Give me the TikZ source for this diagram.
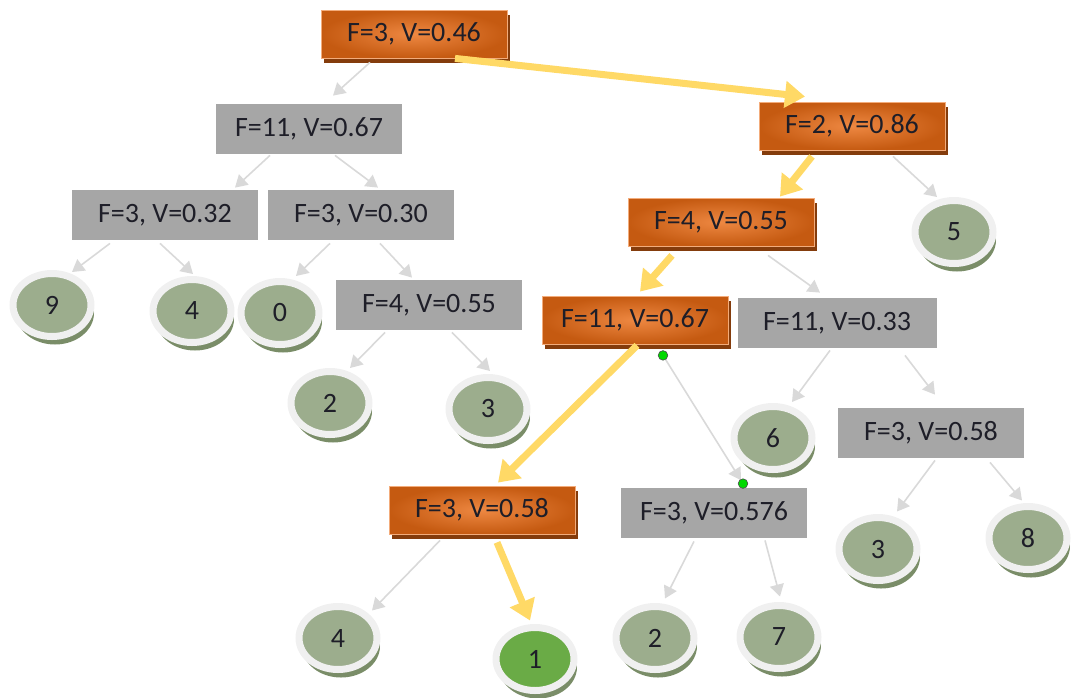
\documentclass[tikz,border=0pt]{standalone}
\usepackage{fontspec}
\setmainfont{Carlito}
\usepackage{xcolor}
\usetikzlibrary{arrows.meta,shapes.geometric,shadows}

\definecolor{boxorange}{HTML}{C55A11}
\definecolor{boxorangelight}{HTML}{EE8842}
\definecolor{boxshade}{HTML}{843C0C}
\definecolor{boxgrey}{HTML}{A6A6A6}
\definecolor{leafgreen}{HTML}{9CAD8D}
\definecolor{leafshade}{HTML}{7A8D68}
\definecolor{leafring}{HTML}{F0F0F0}
\definecolor{leafhit}{HTML}{6AAB46}
\definecolor{pathyellow}{HTML}{FFD966}
\definecolor{edgegrey}{HTML}{D9D9D9}
\definecolor{inkdark}{HTML}{1E1E28}

\tikzset{
  treetext/.style={text=inkdark, font=\fontsize{14}{16}\selectfont},
  orangebox/.style={treetext, rectangle, minimum width=93pt, minimum height=24pt,
    inner color=boxorangelight, outer color=boxorange, draw=boxorangelight!70!white, line width=0.4pt,
    drop shadow={shadow xshift=1.5pt, shadow yshift=-2.5pt, fill=boxshade, opacity=1}},
  greybox/.style={treetext, rectangle, minimum width=93pt, minimum height=25pt, fill=boxgrey},
  leaf/.style={treetext, ellipse, minimum width=39pt, minimum height=31.5pt, inner sep=0pt,
    fill=leafgreen, draw=leafring, line width=3.5pt,
    drop shadow={shadow xshift=1.5pt, shadow yshift=-4pt, fill=leafshade, opacity=1}},
  leafbest/.style={leaf, fill=leafhit},
  thinarrow/.style={draw=edgegrey, line width=0.8pt, -{Triangle[length=6pt,width=7pt]}},
  patharrow/.style={draw=pathyellow, line width=3.5pt, -{Triangle[length=10pt,width=13pt]}},
  handle/.style={fill=green!85!black, draw=black!70, line width=0.3pt},
}

\begin{document}
\begin{tikzpicture}[x=0.5pt,y=-0.5pt]
\useasboundingbox (0,0) rectangle (1076,697);

% decision nodes
\node (root) at (414,34) [orangebox] {F=3, V=0.46};
\node (g11) at (309,129) [greybox] {F=11, V=0.67};
\node (o2) at (852,126) [orangebox] {F=2, V=0.86};
\node (g032) at (165,215) [greybox] {F=3, V=0.32};
\node (g030) at (361,215) [greybox] {F=3, V=0.30};
\node (o4) at (721,222) [orangebox] {F=4, V=0.55};
\node (g455) at (429,305) [greybox] {F=4, V=0.55};
\node (o11) at (635,320) [orangebox] {F=11, V=0.67};
\node (g033) at (837,323) [greybox, minimum width=99.5pt] {F=11, V=0.33};
\node (g058) at (931,433) [greybox] {F=3, V=0.58};
\node (o058) at (482,510) [orangebox] {F=3, V=0.58};
\node (g0576) at (714,513) [greybox] {F=3, V=0.576};

% leaves
\node (c9) at (52,305) [leaf] {9};
\node (c4a) at (192,311) [leaf] {4};
\node (c0) at (280,313) [leaf] {0};
\node (c2a) at (330,403) [leaf] {2};
\node (c3a) at (488,409) [leaf] {3};
\node (c5) at (954,232) [leaf] {5};
\node (c6) at (773,438) [leaf] {6};
\node (c3b) at (878,549) [leaf] {3};
\node (c8) at (1028,538) [leaf] {8};
\node (c4b) at (338,638) [leaf] {4};
\node (c1) at (535,659) [leafbest] {1};
\node (c2b) at (655,638) [leaf] {2};
\node (c7) at (779,637) [leaf] {7};

% grey edges
\draw[thinarrow] ([xshift=-22pt,yshift=-2pt]root.south) -- ([xshift=12pt,yshift=4pt]g11.north);
\draw[thinarrow] ([xshift=-19.5pt,yshift=-0.5pt]g11.south) -- ([xshift=35pt,yshift=1pt]g032.north);
\draw[thinarrow] ([xshift=13pt,yshift=-0.5pt]g11.south) -- ([xshift=8.5pt,yshift=1pt]g030.north);
\draw[thinarrow] ([xshift=-27.5pt,yshift=-1.5pt]g032.south) -- ([xshift=10pt,yshift=-1pt]c9.north);
\draw[thinarrow] ([xshift=-2.5pt,yshift=-1.5pt]g032.south) -- ([xshift=0.5pt,yshift=1pt]c4a.north);
\draw[thinarrow] ([xshift=-15.5pt,yshift=-1.5pt]g030.south) -- ([xshift=8pt,yshift=1pt]c0.north);
\draw[thinarrow] ([xshift=9.5pt,yshift=-1.5pt]g030.south) -- ([xshift=-8.5pt,yshift=1pt]g455.north);
\draw[thinarrow] ([xshift=-22pt,yshift=-1pt]g455.south) -- ([xshift=10pt,yshift=0pt]c2a.north);
\draw[thinarrow] ([xshift=11.5pt,yshift=-1pt]g455.south) -- ([xshift=1pt,yshift=1.5pt]c3a.north);
\draw[thinarrow] ([xshift=20.5pt,yshift=-3pt]o2.south) -- ([xshift=-8.5pt,yshift=0pt]c5.north);
\draw[thinarrow] ([xshift=23.5pt,yshift=-4.5pt]o4.south) -- ([xshift=-8.5pt,yshift=2.5pt]g033.north);
\draw[thinarrow] ([xshift=-3.5pt,yshift=-1pt]g033.south) -- ([xshift=9.5pt,yshift=0.5pt]c6.north);
\draw[thinarrow] ([xshift=34pt,yshift=-3.5pt]g033.south) -- ([xshift=2pt,yshift=6.5pt]g058.north);
\draw[thinarrow] ([xshift=2pt,yshift=-1pt]g058.south) -- ([xshift=9.5pt,yshift=1.25pt]c3b.north);
\draw[thinarrow] ([xshift=29.5pt,yshift=-2pt]g058.south) -- ([xshift=-3pt,yshift=1.25pt]c8.north);
\draw[thinarrow] ([xshift=-21pt,yshift=-3pt]o058.south) -- ([xshift=17pt,yshift=-3.75pt]c4b.north);
\draw[thinarrow] ([xshift=-10pt,yshift=-1.5pt]g0576.south) -- ([xshift=5pt,yshift=2.25pt]c2b.north);
\draw[thinarrow] ([xshift=25.5pt,yshift=-1pt]g0576.south) -- ([xshift=0.5pt,yshift=2.75pt]c7.north);

% selected edge with handles
\coordinate (d1) at ([xshift=14pt,yshift=-5.5pt]o11.south);
\coordinate (d2) at ([xshift=14.5pt,yshift=2pt]g0576.north);
\draw[thinarrow, shorten >=2pt] (d1) -- (d2);
\filldraw[handle] (d1) circle (2.4pt);
\filldraw[handle] (d2) circle (2.4pt);

% best path
\draw[patharrow] ([xshift=20.5pt,yshift=0pt]root.south) -- ([xshift=-23.5pt,yshift=2.5pt]o2.north);
\draw[patharrow] ([xshift=-20pt,yshift=-3pt]o2.south) -- ([xshift=29.5pt,yshift=0.5pt]o4.north);
\draw[patharrow] ([xshift=-24.5pt,yshift=-4.5pt]o4.south) -- ([xshift=2.5pt,yshift=2pt]o11.north);
\draw[patharrow] ([xshift=1pt,yshift=-0.5pt]o11.south) -- ([xshift=8pt,yshift=1.5pt]o058.north);
\draw[patharrow] ([xshift=7.5pt,yshift=-4pt]o058.south) -- ([xshift=-2.5pt,yshift=1.75pt]c1.north);
\end{tikzpicture}
\end{document}
